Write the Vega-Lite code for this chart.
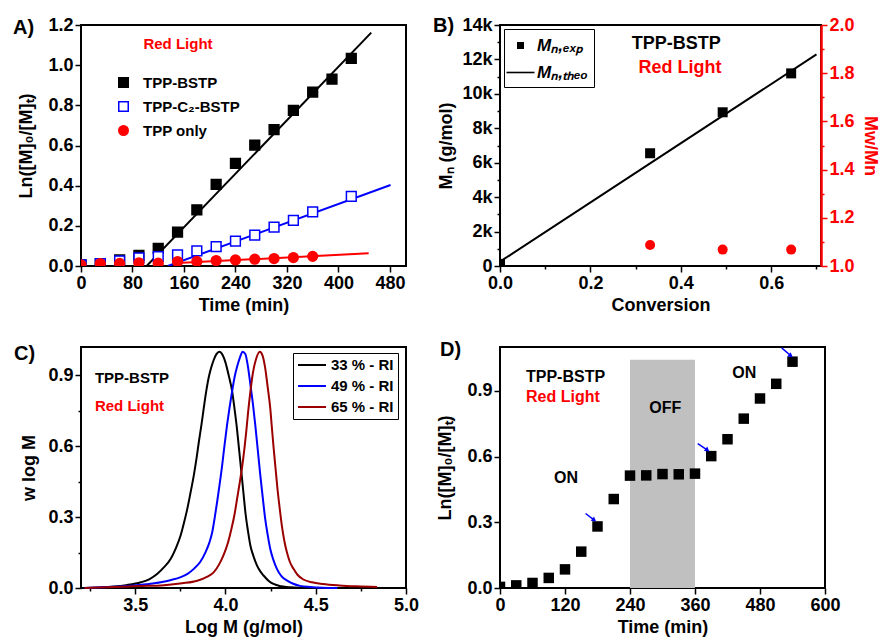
{
  "$schema": "https://vega.github.io/schema/vega-lite/v6.json",
  "background": "white",
  "padding": {"left": 12, "top": 15, "right": 5, "bottom": 5},
  "columns": 2,
  "spacing": {"row": 81, "column": 94},
  "bounds": "flush",
  "resolve": {
    "scale": {"color": "independent", "shape": "independent", "fill": "independent", "stroke": "independent"}
  },
  "config": {
    "font": "Liberation Sans",
    "view": {"stroke": "black", "strokeWidth": 2},
    "axis": {
      "domain": false, "grid": false, "ticks": true, "tickColor": "black", "tickWidth": 1.5,
      "labelFont": "Liberation Sans", "labelFontWeight": "bold", "labelFontSize": 18, "labelColor": "black",
      "labelFlush": false, "labelOverlap": false, "labelPadding": 2,
      "titleFont": "Liberation Sans", "titleFontWeight": "bold", "titleFontSize": 18, "titleColor": "black", "titlePadding": 4
    },
    "legend": {"labelFont": "Liberation Sans", "labelFontWeight": "bold", "labelColor": "black"},
    "title": {"font": "Liberation Sans", "fontWeight": "bold", "fontSize": 20, "color": "black", "anchor": "start", "frame": "group", "offset": 0, "baseline": "alphabetic"}
  },
  "datasets": {
    "a_fit": [
      {"series": "TPP-BSTP", "t": 102, "v": 0}, {"series": "TPP-BSTP", "t": 451, "v": 1.162},
      {"series": "TPP-C₂-BSTP", "t": 135, "v": 0}, {"series": "TPP-C₂-BSTP", "t": 481, "v": 0.403},
      {"series": "TPP only", "t": 150, "v": 0.015}, {"series": "TPP only", "t": 447, "v": 0.063}
    ],
    "a_pts": [
      {"series": "TPP-BSTP", "t": 0, "v": 0.005}, {"series": "TPP-BSTP", "t": 30, "v": 0.012}, {"series": "TPP-BSTP", "t": 60, "v": 0.03},
      {"series": "TPP-BSTP", "t": 90, "v": 0.053}, {"series": "TPP-BSTP", "t": 120, "v": 0.088}, {"series": "TPP-BSTP", "t": 150, "v": 0.169},
      {"series": "TPP-BSTP", "t": 180, "v": 0.28}, {"series": "TPP-BSTP", "t": 210, "v": 0.407}, {"series": "TPP-BSTP", "t": 240, "v": 0.511},
      {"series": "TPP-BSTP", "t": 270, "v": 0.602}, {"series": "TPP-BSTP", "t": 300, "v": 0.679}, {"series": "TPP-BSTP", "t": 330, "v": 0.775},
      {"series": "TPP-BSTP", "t": 360, "v": 0.866}, {"series": "TPP-BSTP", "t": 390, "v": 0.93}, {"series": "TPP-BSTP", "t": 420, "v": 1.034},
      {"series": "TPP-C₂-BSTP", "t": 0, "v": 0.005}, {"series": "TPP-C₂-BSTP", "t": 30, "v": 0.012}, {"series": "TPP-C₂-BSTP", "t": 60, "v": 0.025},
      {"series": "TPP-C₂-BSTP", "t": 90, "v": 0.04}, {"series": "TPP-C₂-BSTP", "t": 120, "v": 0.047}, {"series": "TPP-C₂-BSTP", "t": 150, "v": 0.055},
      {"series": "TPP-C₂-BSTP", "t": 180, "v": 0.075}, {"series": "TPP-C₂-BSTP", "t": 210, "v": 0.096}, {"series": "TPP-C₂-BSTP", "t": 240, "v": 0.124},
      {"series": "TPP-C₂-BSTP", "t": 270, "v": 0.154}, {"series": "TPP-C₂-BSTP", "t": 300, "v": 0.194}, {"series": "TPP-C₂-BSTP", "t": 330, "v": 0.227},
      {"series": "TPP-C₂-BSTP", "t": 360, "v": 0.27}, {"series": "TPP-C₂-BSTP", "t": 420, "v": 0.347},
      {"series": "TPP only", "t": 0, "v": 0.005}, {"series": "TPP only", "t": 30, "v": 0.012}, {"series": "TPP only", "t": 60, "v": 0.013},
      {"series": "TPP only", "t": 90, "v": 0.016}, {"series": "TPP only", "t": 120, "v": 0.014}, {"series": "TPP only", "t": 150, "v": 0.022},
      {"series": "TPP only", "t": 180, "v": 0.023}, {"series": "TPP only", "t": 210, "v": 0.027}, {"series": "TPP only", "t": 240, "v": 0.03},
      {"series": "TPP only", "t": 270, "v": 0.034}, {"series": "TPP only", "t": 300, "v": 0.037}, {"series": "TPP only", "t": 330, "v": 0.042},
      {"series": "TPP only", "t": 360, "v": 0.048}
    ],
    "b_theo": [{"conv": 0, "mn": 250}, {"conv": 0.70, "mn": 12290}],
    "b_exp": [
      {"series": "Mₙ,ₑₓₚ", "conv": 0, "mn": 120}, {"series": "Mₙ,ₑₓₚ", "conv": 0.332, "mn": 6550},
      {"series": "Mₙ,ₑₓₚ", "conv": 0.4925, "mn": 8930}, {"series": "Mₙ,ₑₓₚ", "conv": 0.644, "mn": 11190}
    ],
    "b_pdi": [{"conv": 0.332, "pdi": 1.087}, {"conv": 0.4925, "pdi": 1.068}, {"conv": 0.644, "pdi": 1.068}],
    "c_gpc": [
      {"series": "33 % - RI", "logm": 3.22, "w": 0.0}, {"series": "33 % - RI", "logm": 3.30, "w": 0.002}, {"series": "33 % - RI", "logm": 3.384, "w": 0.006},
      {"series": "33 % - RI", "logm": 3.45, "w": 0.012}, {"series": "33 % - RI", "logm": 3.531, "w": 0.024}, {"series": "33 % - RI", "logm": 3.58, "w": 0.038},
      {"series": "33 % - RI", "logm": 3.623, "w": 0.06}, {"series": "33 % - RI", "logm": 3.66, "w": 0.088}, {"series": "33 % - RI", "logm": 3.697, "w": 0.124},
      {"series": "33 % - RI", "logm": 3.725, "w": 0.168}, {"series": "33 % - RI", "logm": 3.752, "w": 0.223}, {"series": "33 % - RI", "logm": 3.77, "w": 0.275},
      {"series": "33 % - RI", "logm": 3.789, "w": 0.336}, {"series": "33 % - RI", "logm": 3.807, "w": 0.405}, {"series": "33 % - RI", "logm": 3.825, "w": 0.478},
      {"series": "33 % - RI", "logm": 3.84, "w": 0.55}, {"series": "33 % - RI", "logm": 3.853, "w": 0.62}, {"series": "33 % - RI", "logm": 3.867, "w": 0.69},
      {"series": "33 % - RI", "logm": 3.88, "w": 0.762}, {"series": "33 % - RI", "logm": 3.893, "w": 0.83}, {"series": "33 % - RI", "logm": 3.907, "w": 0.89},
      {"series": "33 % - RI", "logm": 3.92, "w": 0.93}, {"series": "33 % - RI", "logm": 3.935, "w": 0.965}, {"series": "33 % - RI", "logm": 3.95, "w": 0.99},
      {"series": "33 % - RI", "logm": 3.967, "w": 1.0}, {"series": "33 % - RI", "logm": 3.985, "w": 0.985}, {"series": "33 % - RI", "logm": 4.0, "w": 0.955},
      {"series": "33 % - RI", "logm": 4.018, "w": 0.9}, {"series": "33 % - RI", "logm": 4.037, "w": 0.833}, {"series": "33 % - RI", "logm": 4.05, "w": 0.76},
      {"series": "33 % - RI", "logm": 4.063, "w": 0.68}, {"series": "33 % - RI", "logm": 4.075, "w": 0.59}, {"series": "33 % - RI", "logm": 4.087, "w": 0.5},
      {"series": "33 % - RI", "logm": 4.1, "w": 0.4}, {"series": "33 % - RI", "logm": 4.112, "w": 0.31}, {"series": "33 % - RI", "logm": 4.125, "w": 0.24},
      {"series": "33 % - RI", "logm": 4.138, "w": 0.18}, {"series": "33 % - RI", "logm": 4.155, "w": 0.135}, {"series": "33 % - RI", "logm": 4.175, "w": 0.095},
      {"series": "33 % - RI", "logm": 4.195, "w": 0.068}, {"series": "33 % - RI", "logm": 4.211, "w": 0.053}, {"series": "33 % - RI", "logm": 4.24, "w": 0.03},
      {"series": "33 % - RI", "logm": 4.266, "w": 0.017}, {"series": "33 % - RI", "logm": 4.31, "w": 0.007}, {"series": "33 % - RI", "logm": 4.36, "w": 0.003},
      {"series": "33 % - RI", "logm": 4.42, "w": 0.001}, {"series": "33 % - RI", "logm": 4.46, "w": 0.0},
      {"series": "49 % - RI", "logm": 3.22, "w": 0.0}, {"series": "49 % - RI", "logm": 3.35, "w": 0.004}, {"series": "49 % - RI", "logm": 3.476, "w": 0.01},
      {"series": "49 % - RI", "logm": 3.56, "w": 0.016}, {"series": "49 % - RI", "logm": 3.642, "w": 0.024}, {"series": "49 % - RI", "logm": 3.70, "w": 0.034},
      {"series": "49 % - RI", "logm": 3.752, "w": 0.046}, {"series": "49 % - RI", "logm": 3.79, "w": 0.06}, {"series": "49 % - RI", "logm": 3.825, "w": 0.081},
      {"series": "49 % - RI", "logm": 3.86, "w": 0.11}, {"series": "49 % - RI", "logm": 3.89, "w": 0.152}, {"series": "49 % - RI", "logm": 3.91, "w": 0.19},
      {"series": "49 % - RI", "logm": 3.927, "w": 0.237}, {"series": "49 % - RI", "logm": 3.94, "w": 0.295}, {"series": "49 % - RI", "logm": 3.954, "w": 0.365},
      {"series": "49 % - RI", "logm": 3.968, "w": 0.44}, {"series": "49 % - RI", "logm": 3.982, "w": 0.52}, {"series": "49 % - RI", "logm": 3.995, "w": 0.605},
      {"series": "49 % - RI", "logm": 4.009, "w": 0.69}, {"series": "49 % - RI", "logm": 4.023, "w": 0.765}, {"series": "49 % - RI", "logm": 4.037, "w": 0.833},
      {"series": "49 % - RI", "logm": 4.05, "w": 0.89}, {"series": "49 % - RI", "logm": 4.064, "w": 0.935}, {"series": "49 % - RI", "logm": 4.08, "w": 0.975},
      {"series": "49 % - RI", "logm": 4.095, "w": 1.0}, {"series": "49 % - RI", "logm": 4.11, "w": 0.99}, {"series": "49 % - RI", "logm": 4.124, "w": 0.94},
      {"series": "49 % - RI", "logm": 4.138, "w": 0.862}, {"series": "49 % - RI", "logm": 4.152, "w": 0.78}, {"series": "49 % - RI", "logm": 4.165, "w": 0.691},
      {"series": "49 % - RI", "logm": 4.179, "w": 0.585}, {"series": "49 % - RI", "logm": 4.193, "w": 0.478}, {"series": "49 % - RI", "logm": 4.207, "w": 0.38},
      {"series": "49 % - RI", "logm": 4.22, "w": 0.294}, {"series": "49 % - RI", "logm": 4.234, "w": 0.225}, {"series": "49 % - RI", "logm": 4.248, "w": 0.166},
      {"series": "49 % - RI", "logm": 4.265, "w": 0.12}, {"series": "49 % - RI", "logm": 4.285, "w": 0.081}, {"series": "49 % - RI", "logm": 4.31, "w": 0.05},
      {"series": "49 % - RI", "logm": 4.34, "w": 0.032}, {"series": "49 % - RI", "logm": 4.375, "w": 0.018}, {"series": "49 % - RI", "logm": 4.413, "w": 0.009},
      {"series": "49 % - RI", "logm": 4.47, "w": 0.004}, {"series": "49 % - RI", "logm": 4.54, "w": 0.001}, {"series": "49 % - RI", "logm": 4.62, "w": 0.0},
      {"series": "65 % - RI", "logm": 3.22, "w": 0.0}, {"series": "65 % - RI", "logm": 3.384, "w": 0.004}, {"series": "65 % - RI", "logm": 3.52, "w": 0.008},
      {"series": "65 % - RI", "logm": 3.66, "w": 0.012}, {"series": "65 % - RI", "logm": 3.76, "w": 0.02}, {"series": "65 % - RI", "logm": 3.844, "w": 0.031},
      {"series": "65 % - RI", "logm": 3.90, "w": 0.048}, {"series": "65 % - RI", "logm": 3.936, "w": 0.067}, {"series": "65 % - RI", "logm": 3.965, "w": 0.1},
      {"series": "65 % - RI", "logm": 3.99, "w": 0.14}, {"series": "65 % - RI", "logm": 4.015, "w": 0.195}, {"series": "65 % - RI", "logm": 4.033, "w": 0.25},
      {"series": "65 % - RI", "logm": 4.05, "w": 0.31}, {"series": "65 % - RI", "logm": 4.065, "w": 0.38}, {"series": "65 % - RI", "logm": 4.08, "w": 0.45},
      {"series": "65 % - RI", "logm": 4.092, "w": 0.51}, {"series": "65 % - RI", "logm": 4.105, "w": 0.59}, {"series": "65 % - RI", "logm": 4.115, "w": 0.66},
      {"series": "65 % - RI", "logm": 4.125, "w": 0.74}, {"series": "65 % - RI", "logm": 4.138, "w": 0.83}, {"series": "65 % - RI", "logm": 4.152, "w": 0.91},
      {"series": "65 % - RI", "logm": 4.17, "w": 0.97}, {"series": "65 % - RI", "logm": 4.19, "w": 1.0}, {"series": "65 % - RI", "logm": 4.205, "w": 0.985},
      {"series": "65 % - RI", "logm": 4.22, "w": 0.932}, {"series": "65 % - RI", "logm": 4.234, "w": 0.85}, {"series": "65 % - RI", "logm": 4.248, "w": 0.762},
      {"series": "65 % - RI", "logm": 4.257, "w": 0.68}, {"series": "65 % - RI", "logm": 4.266, "w": 0.6}, {"series": "65 % - RI", "logm": 4.277, "w": 0.51},
      {"series": "65 % - RI", "logm": 4.288, "w": 0.421}, {"series": "65 % - RI", "logm": 4.3, "w": 0.34}, {"series": "65 % - RI", "logm": 4.312, "w": 0.266},
      {"series": "65 % - RI", "logm": 4.326, "w": 0.2}, {"series": "65 % - RI", "logm": 4.34, "w": 0.152}, {"series": "65 % - RI", "logm": 4.357, "w": 0.11},
      {"series": "65 % - RI", "logm": 4.377, "w": 0.081}, {"series": "65 % - RI", "logm": 4.40, "w": 0.055}, {"series": "65 % - RI", "logm": 4.432, "w": 0.036},
      {"series": "65 % - RI", "logm": 4.48, "w": 0.024}, {"series": "65 % - RI", "logm": 4.54, "w": 0.017}, {"series": "65 % - RI", "logm": 4.63, "w": 0.011},
      {"series": "65 % - RI", "logm": 4.726, "w": 0.007}, {"series": "65 % - RI", "logm": 4.84, "w": 0.004}
    ],
    "d_off": [{"start": 240, "end": 360, "low": 0, "high": 1.042}],
    "d_pts": [
      {"t": 0, "v": 0.005}, {"t": 30, "v": 0.012}, {"t": 60, "v": 0.023}, {"t": 90, "v": 0.046}, {"t": 120, "v": 0.085},
      {"t": 150, "v": 0.166}, {"t": 180, "v": 0.281}, {"t": 210, "v": 0.406}, {"t": 240, "v": 0.513}, {"t": 270, "v": 0.514},
      {"t": 300, "v": 0.52}, {"t": 330, "v": 0.519}, {"t": 360, "v": 0.522}, {"t": 390, "v": 0.602}, {"t": 420, "v": 0.679},
      {"t": 450, "v": 0.773}, {"t": 480, "v": 0.865}, {"t": 510, "v": 0.932}, {"t": 540, "v": 1.033}
    ],
    "d_arrows": [
      {"t0": 158, "v0": 0.34, "t1": 174, "v1": 0.31},
      {"t0": 365, "v0": 0.659, "t1": 383, "v1": 0.629},
      {"t0": 520, "v0": 1.096, "t1": 537, "v1": 1.06}
    ]
  },
  "concat": [
    {
      "width": 325, "height": 241,
      "title": {"text": "A)", "dx": -68, "dy": 26},
      "layer": [
        {
          "data": {"name": "a_fit"},
          "transform": [{"filter": "datum.series === 'TPP-BSTP'"}],
          "mark": {"type": "line", "strokeWidth": 2, "clip": true, "color": "black"},
          "encoding": {
            "x": {"field": "t", "type": "quantitative", "title": "Time (min)", "scale": {"domain": [0, 505], "nice": false, "zero": false},
              "axis": {"values": [0, 40, 80, 120, 160, 200, 240, 280, 320, 360, 400, 440, 480], "labelOverlap": false, "labelExpr": "datum.value % 80 === 0 ? datum.label : ''",
                "tickSize": {"condition": {"test": "datum.value % 80 === 0", "value": 6}, "value": 3}}},
            "y": {"field": "v", "type": "quantitative", "title": "Ln([M]₀/[M]ₜ)", "scale": {"domain": [0, 1.2], "nice": false, "zero": false},
              "axis": {"values": [0, 0.1, 0.2, 0.3, 0.4, 0.5, 0.6, 0.7, 0.8, 0.9, 1.0, 1.1, 1.2], "labelOverlap": false, "format": ".1f", "titlePadding": 12,
                "labelExpr": "round(datum.value*10) % 2 === 0 ? datum.label : ''",
                "tickSize": {"condition": {"test": "round(datum.value*10) % 2 === 0", "value": 6}, "value": 3}}}
          }
        },
        {
          "data": {"name": "a_fit"},
          "transform": [{"filter": "datum.series === 'TPP-C₂-BSTP'"}],
          "mark": {"type": "line", "strokeWidth": 2, "clip": true, "color": "blue"},
          "encoding": {
            "x": {"field": "t", "type": "quantitative", "title": "Time (min)", "scale": {"domain": [0, 505], "nice": false, "zero": false}},
            "y": {"field": "v", "type": "quantitative", "title": "Ln([M]₀/[M]ₜ)", "scale": {"domain": [0, 1.2], "nice": false, "zero": false}}
          }
        },
        {
          "data": {"name": "a_fit"},
          "transform": [{"filter": "datum.series === 'TPP only'"}],
          "mark": {"type": "line", "strokeWidth": 2, "clip": true, "color": "red"},
          "encoding": {
            "x": {"field": "t", "type": "quantitative", "title": "Time (min)", "scale": {"domain": [0, 505], "nice": false, "zero": false}},
            "y": {"field": "v", "type": "quantitative", "title": "Ln([M]₀/[M]ₜ)", "scale": {"domain": [0, 1.2], "nice": false, "zero": false}}
          }
        },
        {
          "data": {"name": "a_pts"},
          "mark": {"type": "point", "size": 95, "strokeWidth": 1.5, "opacity": 1, "clip": true},
          "encoding": {
            "x": {"field": "t", "type": "quantitative", "title": "Time (min)", "scale": {"domain": [0, 505], "nice": false, "zero": false}},
            "y": {"field": "v", "type": "quantitative", "title": "Ln([M]₀/[M]ₜ)", "scale": {"domain": [0, 1.2], "nice": false, "zero": false}},
            "shape": {"field": "series", "type": "nominal", "title": null, "scale": {"domain": ["TPP-BSTP", "TPP-C₂-BSTP", "TPP only"], "range": ["square", "square", "circle"]},
              "legend": {"orient": "none", "legendX": 35, "legendY": 50, "labelFontSize": 15, "symbolSize": 90, "symbolStrokeWidth": 1.5, "rowPadding": 7, "labelOffset": 12, "padding": 0}},
            "fill": {"field": "series", "type": "nominal", "title": null, "scale": {"domain": ["TPP-BSTP", "TPP-C₂-BSTP", "TPP only"], "range": ["black", "white", "red"]},
              "legend": {"orient": "none", "legendX": 35, "legendY": 50, "labelFontSize": 15, "symbolSize": 90, "symbolStrokeWidth": 1.5, "rowPadding": 7, "labelOffset": 12, "padding": 0}},
            "stroke": {"field": "series", "type": "nominal", "title": null, "scale": {"domain": ["TPP-BSTP", "TPP-C₂-BSTP", "TPP only"], "range": ["black", "blue", "red"]},
              "legend": {"orient": "none", "legendX": 35, "legendY": 50, "labelFontSize": 15, "symbolSize": 90, "symbolStrokeWidth": 1.5, "rowPadding": 7, "labelOffset": 12, "padding": 0}}
          }
        },
        {
          "data": {"values": [{"t": 97, "v": 1.104, "label": "Red Light"}]},
          "mark": {"type": "text", "align": "left", "baseline": "middle", "fontSize": 15, "fontWeight": "bold", "font": "Liberation Sans", "color": "red"},
          "encoding": {
            "x": {"field": "t", "type": "quantitative", "title": "Time (min)", "scale": {"domain": [0, 505], "nice": false, "zero": false}},
            "y": {"field": "v", "type": "quantitative", "title": "Ln([M]₀/[M]ₜ)", "scale": {"domain": [0, 1.2], "nice": false, "zero": false}},
            "text": {"field": "label"}
          }
        }
      ]
    },
    {
      "width": 321, "height": 241,
      "title": {"text": "B)", "dx": -67, "dy": 24},
      "layer": [
        {
          "data": {"name": "b_theo"},
          "mark": {"type": "line", "strokeWidth": 2, "color": "black"},
          "encoding": {
            "x": {"field": "conv", "type": "quantitative", "title": "Conversion", "scale": {"domain": [0, 0.71], "nice": false, "zero": false},
              "axis": {"values": [0, 0.1, 0.2, 0.3, 0.4, 0.5, 0.6, 0.7], "labelOverlap": false, "format": ".1f", "labelExpr": "round(datum.value*10) % 2 === 0 ? datum.label : ''",
                "tickSize": {"condition": {"test": "round(datum.value*10) % 2 === 0", "value": 6}, "value": 3}}},
            "y": {"field": "mn", "type": "quantitative", "title": "Mₙ (g/mol)", "scale": {"domain": [0, 14000], "nice": false, "zero": false},
              "axis": {"orient": "left", "labelOverlap": false, "titlePadding": 6,
                "values": [0, 1000, 2000, 3000, 4000, 5000, 6000, 7000, 8000, 9000, 10000, 11000, 12000, 13000, 14000],
                "labelExpr": "datum.value % 2000 === 0 ? (datum.value === 0 ? '0' : (datum.value/1000) + 'k') : ''",
                "tickSize": {"condition": {"test": "datum.value % 2000 === 0", "value": 6}, "value": 3}}}
          }
        },
        {
          "data": {"name": "b_exp"},
          "mark": {"type": "point", "filled": true, "size": 816, "color": "black", "opacity": 1, "clip": true},
          "encoding": {
            "x": {"field": "conv", "type": "quantitative", "title": "Conversion", "scale": {"domain": [0, 0.71], "nice": false, "zero": false}},
            "y": {"field": "mn", "type": "quantitative", "scale": {"domain": [0, 14000], "nice": false, "zero": false}, "axis": null},
            "shape": {"field": "series", "type": "nominal", "title": null,
              "scale": {"domain": ["Mₙ,ₑₓₚ", "Mₙ,ₜₕₑₒ"], "range": ["M-0.35,-0.35H0.35V0.35H-0.35Z", "M-1.4,-0.08H1.4V0.08H-1.4Z"]},
              "legend": {"orient": "none", "legendX": 4, "legendY": 4, "strokeColor": "black", "padding": 6, "labelFontSize": 17, "labelFontStyle": "italic",
                "symbolSize": 400, "rowPadding": 8, "labelOffset": 6, "symbolFillColor": "black", "symbolStrokeColor": "black", "symbolStrokeWidth": 0.5}}
          }
        },
        {
          "data": {"values": [{"conv": 0.39, "mn": 12911, "label": "TPP-BSTP"}]},
          "mark": {"type": "text", "align": "center", "baseline": "middle", "fontSize": 18, "fontWeight": "bold", "font": "Liberation Sans", "color": "black"},
          "encoding": {
            "x": {"field": "conv", "type": "quantitative", "title": "Conversion", "scale": {"domain": [0, 0.71], "nice": false, "zero": false}},
            "y": {"field": "mn", "type": "quantitative", "scale": {"domain": [0, 14000], "nice": false, "zero": false}, "axis": null},
            "text": {"field": "label"}
          }
        },
        {
          "data": {"values": [{"conv": 0.398, "mn": 11512, "label": "Red Light"}]},
          "mark": {"type": "text", "align": "center", "baseline": "middle", "fontSize": 18, "fontWeight": "bold", "font": "Liberation Sans", "color": "red"},
          "encoding": {
            "x": {"field": "conv", "type": "quantitative", "title": "Conversion", "scale": {"domain": [0, 0.71], "nice": false, "zero": false}},
            "y": {"field": "mn", "type": "quantitative", "scale": {"domain": [0, 14000], "nice": false, "zero": false}, "axis": null},
            "text": {"field": "label"}
          }
        },
        {
          "data": {"name": "b_pdi"},
          "mark": {"type": "point", "filled": true, "shape": "circle", "size": 100, "color": "red", "opacity": 1},
          "encoding": {
            "x": {"field": "conv", "type": "quantitative", "title": "Conversion", "scale": {"domain": [0, 0.71], "nice": false, "zero": false}},
            "y": {"field": "pdi", "type": "quantitative", "title": "Mw/Mn", "scale": {"domain": [1, 2], "nice": false, "zero": false},
              "axis": {"orient": "right", "labelOverlap": false, "titlePadding": 6, "values": [1.0, 1.1, 1.2, 1.3, 1.4, 1.5, 1.6, 1.7, 1.8, 1.9, 2.0], "format": ".1f",
                "labelExpr": "round(datum.value*10) % 2 === 0 ? datum.label : ''",
                "tickSize": {"condition": {"test": "round(datum.value*10) % 2 === 0", "value": 6}, "value": 3},
                "labelColor": "red", "tickColor": "red", "titleColor": "red", "domain": true, "domainColor": "red", "domainWidth": 2.5}}
          }
        }
      ],
      "resolve": {"scale": {"y": "independent"}, "axis": {"y": "independent"}}
    },
    {
      "width": 325, "height": 241,
      "title": {"text": "C)", "dx": -67, "dy": 21},
      "layer": [
        {
          "data": {"name": "c_gpc"},
          "mark": {"type": "line", "strokeWidth": 2, "interpolate": "monotone"},
          "encoding": {
            "x": {"field": "logm", "type": "quantitative", "title": "Log M (g/mol)", "scale": {"domain": [3.2, 5.0], "nice": false, "zero": false},
              "axis": {"values": [3.25, 3.5, 3.75, 4.0, 4.25, 4.5, 4.75, 5.0], "labelOverlap": false, "format": ".1f", "labelExpr": "round(datum.value*4) % 2 === 0 ? datum.label : ''",
                "tickSize": {"condition": {"test": "round(datum.value*4) % 2 === 0", "value": 6}, "value": 3}}},
            "y": {"field": "w", "type": "quantitative", "title": "w log M", "scale": {"domain": [0, 1.02], "nice": false, "zero": false},
              "axis": {"values": [0, 0.15, 0.3, 0.45, 0.6, 0.75, 0.9], "labelOverlap": false, "format": ".1f", "titlePadding": 9,
                "labelExpr": "round(datum.value/0.15) % 2 === 0 ? datum.label : ''",
                "tickSize": {"condition": {"test": "round(datum.value/0.15) % 2 === 0", "value": 6}, "value": 3}}},
            "color": {"field": "series", "type": "nominal", "title": null,
              "scale": {"domain": ["33 % - RI", "49 % - RI", "65 % - RI"], "range": ["black", "blue", "#9B0000"]},
              "legend": {"orient": "none", "legendX": 212, "legendY": 6, "strokeColor": "black", "padding": 4, "labelFontSize": 15,
                "symbolType": "M-1,0H3", "symbolSize": 196, "symbolStrokeWidth": 2, "rowPadding": 5, "labelOffset": 18}}
          }
        },
        {
          "data": {"values": [{"logm": 3.277, "w": 0.887, "label": "TPP-BSTP"}]},
          "mark": {"type": "text", "align": "left", "baseline": "middle", "fontSize": 15, "fontWeight": "bold", "font": "Liberation Sans", "color": "black"},
          "encoding": {
            "x": {"field": "logm", "type": "quantitative", "title": "Log M (g/mol)", "scale": {"domain": [3.2, 5.0], "nice": false, "zero": false}},
            "y": {"field": "w", "type": "quantitative", "title": "w log M", "scale": {"domain": [0, 1.02], "nice": false, "zero": false}},
            "text": {"field": "label"}
          }
        },
        {
          "data": {"values": [{"logm": 3.277, "w": 0.769, "label": "Red Light"}]},
          "mark": {"type": "text", "align": "left", "baseline": "middle", "fontSize": 15, "fontWeight": "bold", "font": "Liberation Sans", "color": "red"},
          "encoding": {
            "x": {"field": "logm", "type": "quantitative", "title": "Log M (g/mol)", "scale": {"domain": [3.2, 5.0], "nice": false, "zero": false}},
            "y": {"field": "w", "type": "quantitative", "title": "w log M", "scale": {"domain": [0, 1.02], "nice": false, "zero": false}},
            "text": {"field": "label"}
          }
        }
      ]
    },
    {
      "width": 325, "height": 241,
      "title": {"text": "D)", "dx": -60, "dy": 17},
      "layer": [
        {
          "data": {"name": "d_off"},
          "mark": {"type": "rect", "color": "#C0C0C0"},
          "encoding": {
            "x": {"field": "start", "type": "quantitative", "title": "Time (min)", "scale": {"domain": [0, 600], "nice": false, "zero": false},
              "axis": {"values": [0, 60, 120, 180, 240, 300, 360, 420, 480, 540, 600], "labelOverlap": false, "labelExpr": "datum.value % 120 === 0 ? datum.label : ''",
                "tickSize": {"condition": {"test": "datum.value % 120 === 0", "value": 6}, "value": 3}}},
            "x2": {"field": "end"},
            "y": {"field": "low", "type": "quantitative", "title": "Ln([M]₀/[M]ₜ)", "scale": {"domain": [0, 1.1], "nice": false, "zero": false},
              "axis": {"values": [0, 0.15, 0.3, 0.45, 0.6, 0.75, 0.9, 1.05], "labelOverlap": false, "format": ".1f", "titlePadding": 12,
                "labelExpr": "round(datum.value/0.15) % 2 === 0 ? datum.label : ''",
                "tickSize": {"condition": {"test": "round(datum.value/0.15) % 2 === 0", "value": 6}, "value": 3}}},
            "y2": {"field": "high"}
          }
        },
        {
          "data": {"name": "d_pts"},
          "mark": {"type": "point", "shape": "square", "filled": true, "size": 110, "color": "black", "opacity": 1, "clip": true},
          "encoding": {
            "x": {"field": "t", "type": "quantitative", "title": "Time (min)", "scale": {"domain": [0, 600], "nice": false, "zero": false}},
            "y": {"field": "v", "type": "quantitative", "title": "Ln([M]₀/[M]ₜ)", "scale": {"domain": [0, 1.1], "nice": false, "zero": false}}
          }
        },
        {
          "data": {"name": "d_arrows"},
          "mark": {"type": "rule", "color": "blue", "strokeWidth": 1.5},
          "encoding": {
            "x": {"field": "t0", "type": "quantitative", "title": "Time (min)", "scale": {"domain": [0, 600], "nice": false, "zero": false}},
            "y": {"field": "v0", "type": "quantitative", "title": "Ln([M]₀/[M]ₜ)", "scale": {"domain": [0, 1.1], "nice": false, "zero": false}},
            "x2": {"field": "t1"},
            "y2": {"field": "v1"}
          }
        },
        {
          "data": {"name": "d_arrows"},
          "mark": {"type": "point", "shape": "triangle-right", "filled": true, "size": 30, "color": "blue", "angle": 37, "opacity": 1},
          "encoding": {
            "x": {"field": "t1", "type": "quantitative", "title": "Time (min)", "scale": {"domain": [0, 600], "nice": false, "zero": false}},
            "y": {"field": "v1", "type": "quantitative", "title": "Ln([M]₀/[M]ₜ)", "scale": {"domain": [0, 1.1], "nice": false, "zero": false}}
          }
        },
        {
          "data": {"values": [{"t": 48, "v": 0.964, "label": "TPP-BSTP"}]},
          "mark": {"type": "text", "align": "left", "baseline": "middle", "fontSize": 16, "fontWeight": "bold", "font": "Liberation Sans", "color": "black"},
          "encoding": {
            "x": {"field": "t", "type": "quantitative", "title": "Time (min)", "scale": {"domain": [0, 600], "nice": false, "zero": false}},
            "y": {"field": "v", "type": "quantitative", "title": "Ln([M]₀/[M]ₜ)", "scale": {"domain": [0, 1.1], "nice": false, "zero": false}},
            "text": {"field": "label"}
          }
        },
        {
          "data": {"values": [{"t": 48, "v": 0.872, "label": "Red Light"}]},
          "mark": {"type": "text", "align": "left", "baseline": "middle", "fontSize": 16, "fontWeight": "bold", "font": "Liberation Sans", "color": "red"},
          "encoding": {
            "x": {"field": "t", "type": "quantitative", "title": "Time (min)", "scale": {"domain": [0, 600], "nice": false, "zero": false}},
            "y": {"field": "v", "type": "quantitative", "title": "Ln([M]₀/[M]ₜ)", "scale": {"domain": [0, 1.1], "nice": false, "zero": false}},
            "text": {"field": "label"}
          }
        },
        {
          "data": {"values": [{"t": 305, "v": 0.822, "label": "OFF"}, {"t": 122, "v": 0.502, "label": "ON"}, {"t": 451, "v": 0.982, "label": "ON"}]},
          "mark": {"type": "text", "align": "center", "baseline": "middle", "fontSize": 16, "fontWeight": "bold", "font": "Liberation Sans", "color": "black"},
          "encoding": {
            "x": {"field": "t", "type": "quantitative", "title": "Time (min)", "scale": {"domain": [0, 600], "nice": false, "zero": false}},
            "y": {"field": "v", "type": "quantitative", "title": "Ln([M]₀/[M]ₜ)", "scale": {"domain": [0, 1.1], "nice": false, "zero": false}},
            "text": {"field": "label"}
          }
        }
      ]
    }
  ]
}
